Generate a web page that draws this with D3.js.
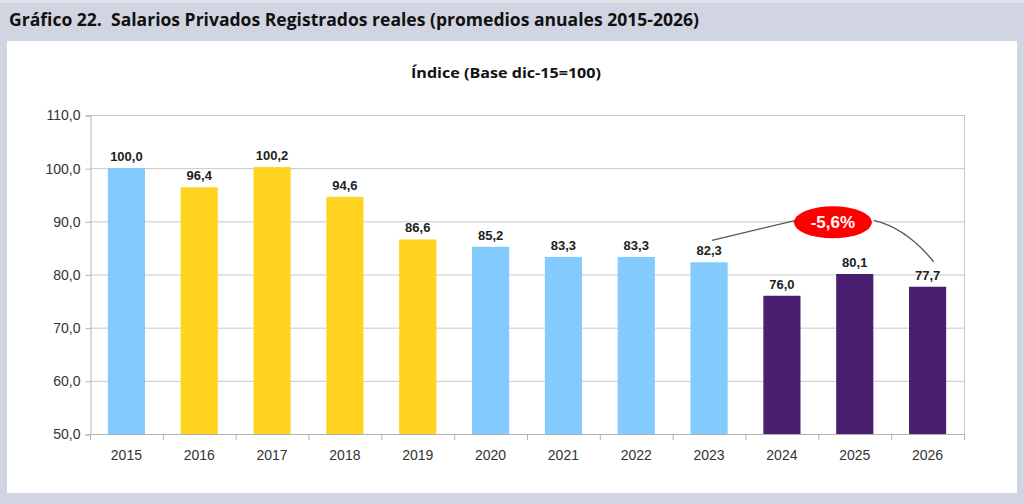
<!DOCTYPE html>
<html>
<head>
<meta charset="utf-8">
<script src="https://cdn.jsdelivr.net/npm/d3@7"></script>
<style>
  html, body { margin: 0; padding: 0; background: #d0d5e1; }
  svg { display: block; }
</style>
</head>
<body>
<script>
// data
const years = ["2015", "2016", "2017", "2018", "2019", "2020", "2021", "2022", "2023", "2024", "2025", "2026"];
const values = [100.0, 96.4, 100.2, 94.6, 86.6, 85.2, 83.3, 83.3, 82.3, 76.0, 80.1, 77.7];
const groups = ["b", "y", "y", "y", "y", "b", "b", "b", "b", "p", "p", "p"];
const yTicks = [50, 60, 70, 80, 90, 100, 110];
const changeLabel = "-5,6%";

const title = "Gráfico 22.  Salarios Privados Registrados reales (promedios anuales 2015-2026)";
const subtitle = "Índice (Base dic-15=100)";

// layout
const width = 1024;
const height = 504;
const plot = { left: 90, right: 964, top: 115, bottom: 434 };

const fmt = (v) => d3.format(".1f")(v).replace(".", ",");

const color = d3
  .scaleOrdinal()
  .domain(["b", "y", "p"])
  .range(["#83caff", "#ffd320", "#4b1f6f"]);

const x = d3
  .scaleBand()
  .domain(years)
  .range([plot.left, plot.right])
  .paddingInner(0.49)
  .paddingOuter(0.245);

const xCat = d3.scaleBand().domain(years).range([plot.left, plot.right]);

const y = d3.scaleLinear().domain([50, 110]).range([plot.bottom, plot.top]);

const svg = d3
  .select("body")
  .append("svg")
  .attr("width", width)
  .attr("height", height);

// background panels
svg.append("rect").attr("width", width).attr("height", height).attr("fill", "#d0d5e1");
svg.append("rect").attr("width", width).attr("height", 3).attr("fill", "#dde1ea");
svg
  .append("rect")
  .attr("x", 7)
  .attr("y", 41)
  .attr("width", 1010)
  .attr("height", 452)
  .attr("fill", "#ffffff");

// title
svg
  .append("text")
  .attr("x", 9)
  .attr("y", 26)
  .style("white-space", "pre")
  .attr("font-family", "Open Sans, sans-serif")
  .attr("font-weight", "bold")
  .attr("font-size", 17)
  .attr("fill", "#111")
  .attr("textLength", 690)
  .attr("lengthAdjust", "spacingAndGlyphs")
  .text(title);

svg
  .append("text")
  .attr("x", 506)
  .attr("y", 78)
  .attr("text-anchor", "middle")
  .attr("font-family", "Open Sans, sans-serif")
  .attr("font-weight", "bold")
  .attr("font-size", 14)
  .attr("fill", "#111")
  .attr("textLength", 190)
  .attr("lengthAdjust", "spacingAndGlyphs")
  .text(subtitle);

// gridlines
svg
  .append("g")
  .selectAll("line")
  .data(yTicks)
  .join("line")
  .attr("x1", plot.left)
  .attr("x2", plot.right)
  .attr("y1", (d) => y(d) + 0.5)
  .attr("y2", (d) => y(d) + 0.5)
  .attr("stroke", "#c8c8c8");

svg
  .append("line")
  .attr("x1", plot.right + 0.5)
  .attr("x2", plot.right + 0.5)
  .attr("y1", plot.top)
  .attr("y2", plot.bottom)
  .attr("stroke", "#c8c8c8");

// y axis
const yAxis = d3
  .axisLeft(y)
  .tickValues(yTicks)
  .tickFormat(fmt)
  .tickSize(5)
  .tickPadding(5);

const gy = svg
  .append("g")
  .attr("transform", `translate(${plot.left + 0.5},0.5)`)
  .call(yAxis);
gy.select(".domain").attr("stroke", "#b3b3b3");
gy.selectAll(".tick line").attr("stroke", "#b3b3b3");
gy.selectAll(".tick text")
  .attr("font-family", "Liberation Sans, Arial, sans-serif")
  .attr("font-size", 14)
  .attr("fill", "#333");

// bars
svg
  .append("g")
  .selectAll("rect")
  .data(values)
  .join("rect")
  .attr("x", (d, i) => x(years[i]))
  .attr("y", (d) => y(d))
  .attr("width", x.bandwidth())
  .attr("height", (d) => y(50) - y(d))
  .attr("fill", (d, i) => color(groups[i]));

// value labels
svg
  .append("g")
  .selectAll("text")
  .data(values)
  .join("text")
  .attr("x", (d, i) => x(years[i]) + x.bandwidth() / 2)
  .attr("y", (d) => y(d) - 7)
  .attr("text-anchor", "middle")
  .attr("font-family", "Liberation Sans, Arial, sans-serif")
  .attr("font-weight", "bold")
  .attr("font-size", 13)
  .attr("fill", "#222")
  .text(fmt);

// x axis
svg
  .append("line")
  .attr("x1", plot.left)
  .attr("x2", plot.right + 1)
  .attr("y1", plot.bottom + 0.5)
  .attr("y2", plot.bottom + 0.5)
  .attr("stroke", "#b3b3b3");

svg
  .append("g")
  .selectAll("line")
  .data(years.concat(["end"]))
  .join("line")
  .attr("x1", (d, i) => (i < years.length ? xCat(d) : plot.right) + 0.5)
  .attr("x2", (d, i) => (i < years.length ? xCat(d) : plot.right) + 0.5)
  .attr("y1", plot.bottom)
  .attr("y2", plot.bottom + 6)
  .attr("stroke", "#b3b3b3");

svg
  .append("g")
  .selectAll("text")
  .data(years)
  .join("text")
  .attr("x", (d) => xCat(d) + xCat.bandwidth() / 2)
  .attr("y", plot.bottom + 26)
  .attr("text-anchor", "middle")
  .attr("font-family", "Liberation Sans, Arial, sans-serif")
  .attr("font-size", 14)
  .attr("fill", "#333")
  .text((d) => d);

// annotation: change 2023 -> 2026
const cx = xCat("2025") + xCat.bandwidth() * 0.2;
const cy = y(90) + 1;
const rx = 39;
const ry = 16;
const x0 = x("2023") + x.bandwidth() / 2 + 3;
const y0 = y(values[8]) - 22;
const x1 = x("2026") + x.bandwidth() / 2 + 6;
const y1 = y(values[11]) - 25;

svg
  .append("line")
  .attr("x1", x0)
  .attr("y1", y0)
  .attr("x2", cx - rx + 2)
  .attr("y2", cy - 2)
  .attr("stroke", "#555")
  .attr("stroke-width", 1.3);

svg
  .append("path")
  .attr(
    "d",
    `M${cx + rx + 2},${cy - 2} Q${cx + rx + 35},${cy + 6} ${x1},${y1}`
  )
  .attr("fill", "none")
  .attr("stroke", "#555")
  .attr("stroke-width", 1.3);

svg
  .append("ellipse")
  .attr("cx", cx)
  .attr("cy", cy)
  .attr("rx", rx)
  .attr("ry", ry)
  .attr("fill", "#ff0000");

svg
  .append("text")
  .attr("x", cx)
  .attr("y", cy + 6)
  .attr("text-anchor", "middle")
  .attr("font-family", "Liberation Sans, Arial, sans-serif")
  .attr("font-weight", "bold")
  .attr("font-size", 17)
  .attr("fill", "#ffffff")
  .text(changeLabel);
</script>
</body>
</html>
